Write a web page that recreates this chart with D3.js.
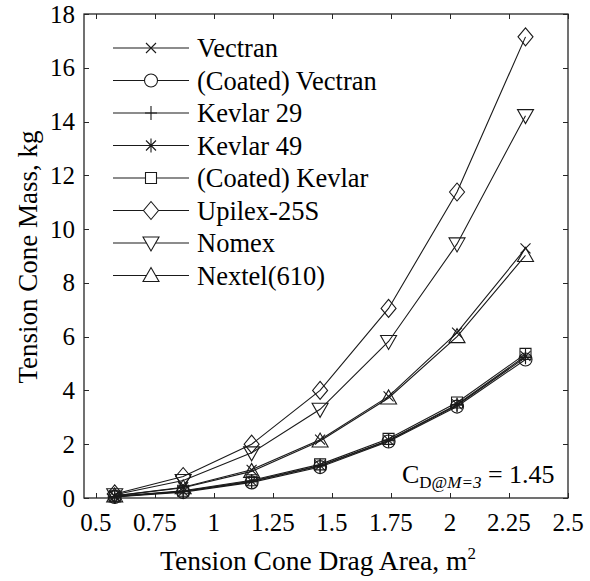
<!DOCTYPE html>
<html><head><meta charset="utf-8">
<script src="https://cdn.jsdelivr.net/npm/d3@7"></script>
<style>body{margin:0;background:#fff}svg{display:block}</style>
</head><body><svg id="c" width="590" height="581"></svg>
<script>
const dragArea = [0.58, 0.87, 1.16, 1.45, 1.74, 2.03, 2.32];
const seriesNames = ["Vectran","(Coated) Vectran","Kevlar 29","Kevlar 49","(Coated) Kevlar","Upilex-25S","Nomex","Nextel(610)"];
const seriesMarkers = ["x","o","+","*","s","d","v","^"];
const vectran       = [0.08, 0.40, 1.05, 2.17, 3.78, 6.15, 9.28];
const coatedVectran = [0.04, 0.22, 0.58, 1.15, 2.10, 3.40, 5.15];
const kevlar29      = [0.05, 0.24, 0.61, 1.19, 2.13, 3.45, 5.23];
const kevlar49      = [0.05, 0.25, 0.63, 1.21, 2.15, 3.48, 5.28];
const coatedKevlar  = [0.06, 0.27, 0.66, 1.25, 2.20, 3.55, 5.36];
const upilex        = [0.15, 0.80, 2.00, 4.00, 7.05, 11.38, 17.15];
const nomex         = [0.12, 0.65, 1.68, 3.30, 5.82, 9.45, 14.22];
const nextel        = [0.08, 0.38, 0.99, 2.12, 3.72, 6.00, 9.02];
const seriesValues = [vectran, coatedVectran, kevlar29, kevlar49, coatedKevlar, upilex, nomex, nextel];
const xTicks = [0.5, 0.75, 1, 1.25, 1.5, 1.75, 2, 2.25, 2.5];
const xTickLabels = ["0.5","0.75","1","1.25","1.5","1.75","2","2.25","2.5"];
const yTicks = [0, 2, 4, 6, 8, 10, 12, 14, 16, 18];

const FONT = "'Liberation Serif', 'Times New Roman', serif";
const svg = d3.select("#c").attr("font-family", FONT);
const L = 84, R = 568, T = 14, B = 498;
const x = d3.scaleLinear().domain([0.45, 2.5]).range([L, R]);
const y = d3.scaleLinear().domain([0, 18]).range([B, T]);
const ink = "#1a1a1a";

function markerPath(m) {
  switch (m) {
    case "x": return "M-5,-5L5,5M-5,5L5,-5";
    case "+": return "M-6,0L6,0M0,-7L0,7";
    case "*": return "M-6,0L6,0M0,-7L0,7M-5,-5L5,5M-5,5L5,-5";
    case "o": return d3.arc()({innerRadius:0, outerRadius:6.5, startAngle:0, endAngle:2*Math.PI});
    case "s": return "M-5.5,-5.5L5.5,-5.5L5.5,5.5L-5.5,5.5Z";
    case "d": return "M0,-9L7.5,0L0,9L-7.5,0Z";
    case "v": return "M-8,-6L8,-6L0,8Z";
    case "^": return "M-8,6L8,6L0,-8Z";
  }
}

const g = svg.append("g");
g.append("rect").attr("x", L).attr("y", T).attr("width", R - L).attr("height", B - T)
  .attr("fill", "none").attr("stroke", "#262626").attr("stroke-width", 1.3);

const tl = 5;
xTicks.forEach((t, i) => {
  const px = Math.round(x(t)) + 0.5;
  g.append("line").attr("x1", px).attr("x2", px).attr("y1", B).attr("y2", B - tl).attr("stroke", "#262626");
  g.append("line").attr("x1", px).attr("x2", px).attr("y1", T).attr("y2", T + tl).attr("stroke", "#262626");
  g.append("text").attr("x", x(t)).attr("y", 531).attr("text-anchor", "middle")
    .attr("font-family", FONT).attr("font-size", 25).text(xTickLabels[i]);
});
yTicks.forEach(t => {
  const py = Math.round(y(t)) + 0.5;
  g.append("line").attr("x1", L).attr("x2", L + tl).attr("y1", py).attr("y2", py).attr("stroke", "#262626");
  g.append("line").attr("x1", R).attr("x2", R - tl).attr("y1", py).attr("y2", py).attr("stroke", "#262626");
  g.append("text").attr("x", 75).attr("y", y(t) + 8.5).attr("text-anchor", "end")
    .attr("font-family", FONT).attr("font-size", 25).text(t);
});

const xl = svg.append("text").attr("x", 318).attr("y", 570).attr("text-anchor", "middle")
  .attr("font-family", FONT).attr("font-size", 27.5);
xl.append("tspan").text("Tension Cone Drag Area, m");
xl.append("tspan").attr("font-size", 17).attr("dy", -11).text("2");
svg.append("text").attr("transform", "translate(37,257) rotate(-90)").attr("text-anchor", "middle")
  .attr("font-family", FONT).attr("font-size", 27).text("Tension Cone Mass, kg");

const line = d3.line().x(d => x(d[0])).y(d => y(d[1]));
seriesValues.forEach((vals, si) => {
  const pts = dragArea.map((a, i) => [a, vals[i]]);
  svg.append("path").attr("d", line(pts)).attr("fill", "none").attr("stroke", ink).attr("stroke-width", 1.1);
  svg.selectAll(null).data(pts).enter().append("path")
    .attr("transform", d => `translate(${x(d[0])},${y(d[1])})`)
    .attr("d", markerPath(seriesMarkers[si]))
    .attr("fill", "none").attr("stroke", ink).attr("stroke-width", 1.1);
});

const lg = svg.append("g");
seriesNames.forEach((name, i) => {
  const ly = 48 + i * 32.5;
  lg.append("line").attr("x1", 113).attr("x2", 189).attr("y1", ly).attr("y2", ly).attr("stroke", ink).attr("stroke-width", 1.1);
  lg.append("path").attr("transform", `translate(151,${ly})`).attr("d", markerPath(seriesMarkers[i]))
    .attr("fill", "#fff").attr("stroke", ink).attr("stroke-width", 1.1);
  lg.append("text").attr("x", 197).attr("y", ly + 9).attr("font-family", FONT).attr("font-size", 26.5).text(name);
});

const an = svg.append("text").attr("x", 402).attr("y", 483).attr("font-family", FONT).attr("font-size", 26);
an.append("tspan").text("C");
an.append("tspan").attr("font-size", 17).attr("dy", 5).text("D@");
an.append("tspan").attr("font-size", 17).attr("font-style", "italic").text("M=3");
an.append("tspan").attr("dy", -5).text(" = 1.45");
</script></body></html>
